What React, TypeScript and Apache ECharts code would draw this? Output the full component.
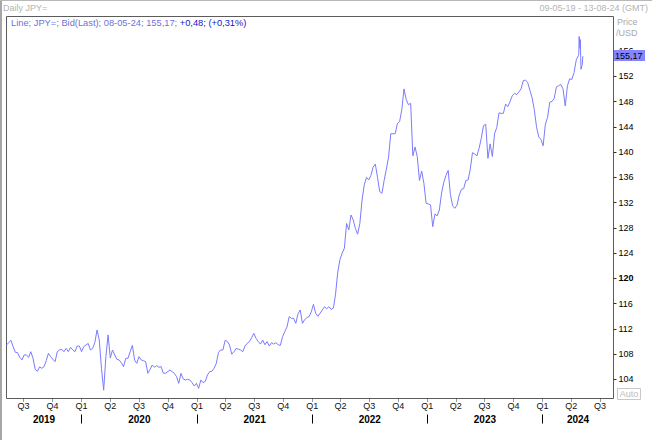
import React, { useEffect, useRef } from 'react';
import * as echarts from 'echarts';

// ---------- data ----------
const WEEK_START = '2019-05-08';
// weekly closes (every 7 days from WEEK_START up to 2024-04-24)
const weeklyPrices = [
  109.46, 109.83, 110.2, 109.2, 108.3, 108.25, 107.5, 107.09, 107.88, 107.9,
  107.5, 108.4, 107.35, 105.6, 105.3, 106.0, 105.77, 106.03, 107.0, 108.14,
  107.61, 107.19, 106.82, 108.4, 108.67, 108.78, 108.4, 108.93, 108.4, 109.09,
  108.67, 108.4, 109.3, 109.3, 108.4, 109.2, 109.46, 109.7, 108.67, 108.93,
  109.83, 111.84, 110.25, 105.77, 102.3, 107.61, 111.05, 107.4, 108.67, 107.88,
  107.19, 107.09, 106.66, 106.03, 107.35, 107.35, 108.4, 109.4, 107.09, 106.56,
  107.61, 107.09, 106.98, 106.82, 104.98, 105.6, 106.3, 105.93, 106.2, 105.93,
  106.03, 105.0, 104.98, 105.24, 105.5, 105.24, 104.98, 104.45, 103.39, 104.98,
  104.1, 103.92, 104.03, 103.92, 103.5, 102.97, 103.39, 102.6, 103.92, 103.5,
  103.7, 104.71, 105.24, 105.3, 105.77, 106.56, 108.3, 108.67, 108.67, 110.2,
  110.0, 109.46, 108.0, 108.4, 108.93, 108.8, 108.67, 108.4, 109.3, 109.72,
  109.99, 110.6, 111.31, 110.52, 110.0, 109.6, 110.25, 109.5, 110.0, 109.3,
  109.83, 109.6, 109.83, 109.5, 109.4, 110.78, 111.57, 112.3, 113.95, 113.68,
  113.68, 112.89, 114.4, 115.0, 112.89, 113.45, 113.8, 113.95, 114.7, 115.9,
  114.47, 114.0, 114.5, 115.0, 115.53, 115.2, 115.53, 115.1, 115.3, 117.5,
  121.0, 123.0, 124.0, 124.8, 128.7, 127.67, 130.04, 129.25, 127.9, 127.0,
  128.7, 132.4, 134.8, 136.0, 135.6, 136.3, 137.6, 138.1, 136.0, 133.74,
  133.47, 135.5, 137.3, 139.2, 142.9, 142.9, 142.9, 144.5, 144.82, 146.7,
  150.0, 148.3, 147.5, 147.72, 139.4, 140.8, 139.28, 135.5, 137.0, 135.06,
  131.89, 131.8, 131.63, 128.2, 130.2, 129.9, 130.83, 133.5, 135.2, 136.3,
  137.1, 133.3, 131.5, 131.1, 131.6, 133.2, 134.1, 134.2, 135.5, 135.58,
  137.3, 139.9, 139.7, 139.4, 140.6, 142.2, 144.2, 144.4, 139.0, 141.3,
  139.3, 142.9, 143.9, 146.2, 146.13, 146.13, 147.6, 147.2, 147.98, 148.9,
  149.3, 149.1, 149.5, 150.0, 151.3, 151.4, 151.0, 149.8, 148.6, 146.7,
  144.0, 142.4, 142.0, 141.0, 144.4, 145.5, 147.9, 148.0, 148.5, 150.3,
  150.5, 150.7, 150.0, 147.3, 150.5, 151.6, 151.5, 152.6, 154.6, 155.3,
];
// most recent daily closes
const recentDates = [
  '2024-04-25', '2024-04-26', '2024-04-29', '2024-04-30', '2024-05-01',
  '2024-05-02', '2024-05-03', '2024-05-06', '2024-05-07', '2024-05-08',
];
const recentPrices = [155.6, 158.3, 156.4, 157.8, 155.0, 153.1, 153.0, 153.9, 154.69, 155.17];

const axisStart = '2019-05-08';
const axisEnd = '2024-08-13';
const quarterTicks = [
  '2019-07-01', '2019-10-01',
  '2020-01-01', '2020-04-01', '2020-07-01', '2020-10-01',
  '2021-01-01', '2021-04-01', '2021-07-01', '2021-10-01',
  '2022-01-01', '2022-04-01', '2022-07-01', '2022-10-01',
  '2023-01-01', '2023-04-01', '2023-07-01', '2023-10-01',
  '2024-01-01', '2024-04-01', '2024-07-01',
];
const yearTicks = ['2020-01-01', '2021-01-01', '2022-01-01', '2023-01-01', '2024-01-01'];
const years = [2019, 2020, 2021, 2022, 2023, 2024];
const priceTicks = [104, 108, 112, 116, 120, 124, 128, 132, 136, 140, 144, 148, 152, 156];
const boldPriceTicks = [120];

const headerTitle = 'Daily JPY=';
const headerRange = '09-05-19 - 13-08-24 (GMT)';
const instrument = 'JPY=';
const priceUnitLines = ['Price', '/USD'];
const autoLabel = 'Auto';

// ---------- helpers ----------
const FONT = '"Liberation Sans", Arial, sans-serif';
const DAY = 86400000;
const ts = (s: string) => new Date(s + 'T00:00:00Z').getTime();
const fmtNum = (n: number) => n.toFixed(2).replace('.', ',');
const fmtDate = (s: string) => {
  const [y, m, d] = s.split('-');
  return `${d}-${m}-${y.slice(2)}`;
};

export default function App() {
  const ref = useRef<HTMLDivElement>(null);

  useEffect(() => {
    if (!ref.current) return;
    const chart = echarts.init(ref.current, undefined, { renderer: 'svg' });

    const start = ts(WEEK_START);
    const data: [number, number][] = weeklyPrices.map((v, i) => [start + i * 7 * DAY, v]);
    recentDates.forEach((d, i) => data.push([ts(d), recentPrices[i]]));

    const minT = ts(axisStart);
    const maxT = ts(axisEnd);
    const yearMids = years.map((y) => {
      const a = Math.max(Date.UTC(y, 0, 1), minT);
      const b = Math.min(Date.UTC(y + 1, 0, 1), maxT);
      return (a + b) / 2;
    });

    const last = recentPrices[recentPrices.length - 1];
    const prev = recentPrices[recentPrices.length - 2];
    const chg = last - prev;
    const pct = (chg / prev) * 100;
    const sign = (n: number) => (n >= 0 ? '+' : '-');
    const legendA = `Line; ${instrument}; Bid(Last); ${fmtDate(recentDates[recentDates.length - 1])}; ${fmtNum(last)}; `;
    const legendB = `${sign(chg)}${fmtNum(Math.abs(chg))}; (${sign(pct)}${fmtNum(Math.abs(pct))}%)`;

    const option: any = {
      animation: false,
      backgroundColor: '#ffffff',
      textStyle: { fontFamily: FONT },
      grid: {
        show: true,
        left: 6.5,
        top: 16.5,
        right: 38.5,
        bottom: 41.5,
        borderColor: '#5c5c5c',
        borderWidth: 1,
        backgroundColor: '#ffffff',
      },
      xAxis: [
        {
          type: 'value',
          min: minT,
          max: maxT,
          position: 'bottom',
          axisLine: { show: false },
          splitLine: { show: false },
          axisTick: {
            show: true,
            customValues: quarterTicks.map(ts),
            length: 3,
            lineStyle: { color: '#333', width: 1, type: [1, 1] },
          },
          axisLabel: {
            customValues: quarterTicks.map(ts),
            margin: 3,
            fontSize: 9,
            fontFamily: FONT,
            color: '#111',
            hideOverlap: false,
            formatter: (v: number) => 'Q' + (Math.floor(new Date(v).getUTCMonth() / 3) + 1),
          },
        },
        {
          type: 'value',
          min: minT,
          max: maxT,
          position: 'bottom',
          offset: 16,
          axisLine: { show: false },
          splitLine: { show: false },
          axisTick: {
            show: true,
            customValues: yearTicks.map(ts),
            length: 9,
            lineStyle: { color: '#000', width: 1 },
          },
          axisLabel: {
            customValues: yearMids,
            margin: 0,
            fontSize: 10,
            fontWeight: 'bold',
            fontFamily: FONT,
            color: '#000',
            hideOverlap: false,
            formatter: (v: number) => String(new Date(v).getUTCFullYear()),
          },
        },
      ],
      yAxis: {
        type: 'value',
        position: 'right',
        min: 100.99,
        max: 161.46,
        axisLine: { show: false },
        splitLine: { show: false },
        axisTick: {
          show: true,
          customValues: priceTicks,
          length: 3,
          lineStyle: { color: '#333' },
        },
        axisLabel: {
          customValues: priceTicks,
          margin: 5,
          fontSize: 9,
          fontFamily: FONT,
          color: '#000',
          formatter: (v: number) => (boldPriceTicks.includes(v) ? `{b|${v}}` : `${v}`),
          rich: { b: { fontWeight: 'bold', fontSize: 9, fontFamily: FONT, color: '#000' } },
        },
      },
      series: [
        {
          type: 'line',
          xAxisIndex: 0,
          data,
          showSymbol: false,
          symbol: 'none',
          clip: true,
          lineStyle: { color: '#7b7bff', width: 1 },
          itemStyle: { color: '#7b7bff' },
        },
      ],
    };
    chart.setOption(option);

    const yLast = chart.convertToPixel({ yAxisIndex: 0 }, last) as number;

    chart.setOption({
      graphic: [
        { type: 'rect', shape: { x: 0, y: 0, width: 2, height: 440 }, style: { fill: '#a6a6a6' }, silent: true },
        { type: 'rect', shape: { x: 0, y: 0, width: 652, height: 1 }, style: { fill: '#b8b8b8' }, silent: true },
        {
          type: 'text', x: 3, y: 8,
          style: { text: headerTitle, fill: '#b4b4b4', fontSize: 9, fontFamily: FONT, verticalAlign: 'middle' },
        },
        {
          type: 'text', x: 648, y: 8,
          style: { text: headerRange, fill: '#b4b4b4', fontSize: 9, fontFamily: FONT, align: 'right', verticalAlign: 'middle' },
        },
        {
          type: 'text', x: 617, y: 22,
          style: { text: priceUnitLines[0], fill: '#a8a8a8', fontSize: 9, fontFamily: FONT, verticalAlign: 'middle' },
        },
        {
          type: 'text', x: 616, y: 33,
          style: { text: priceUnitLines[1], fill: '#a8a8a8', fontSize: 9, fontFamily: FONT, verticalAlign: 'middle' },
        },
        {
          type: 'text', x: 11, y: 23,
          style: {
            text: `{a|${legendA}}{b|${legendB}}`,
            fontSize: 9.3, fontFamily: FONT, verticalAlign: 'middle',
            rich: {
              a: { fill: '#7070d8', color: '#7070d8', fontSize: 9.3, fontFamily: FONT },
              b: { fill: '#1515c8', color: '#1515c8', fontSize: 9.3, fontFamily: FONT },
            },
          },
        },
        {
          type: 'rect', z: 100,
          shape: { x: 614, y: Math.round(yLast) - 6, width: 31, height: 11 },
          style: { fill: '#8585ff' },
        },
        {
          type: 'text', z: 101, x: 615, y: Math.round(yLast) - 0.5,
          style: { text: fmtNum(last), fill: '#000', fontSize: 9, fontFamily: FONT, verticalAlign: 'middle' },
        },
        {
          type: 'rect', z: 100,
          shape: { x: 617.5, y: 388.5, width: 23, height: 11 },
          style: { fill: '#ffffff', stroke: '#c8c8c8', lineWidth: 1 },
        },
        {
          type: 'text', z: 101, x: 629, y: 394,
          style: { text: autoLabel, fill: '#bcbcbc', fontSize: 9, fontFamily: FONT, align: 'center', verticalAlign: 'middle' },
        },
      ],
    });

    return () => chart.dispose();
  }, []);

  return (
    <div
      ref={ref}
      style={{ position: 'absolute', left: 0, top: 0, width: 652, height: 440, background: '#fff' }}
    />
  );
}
